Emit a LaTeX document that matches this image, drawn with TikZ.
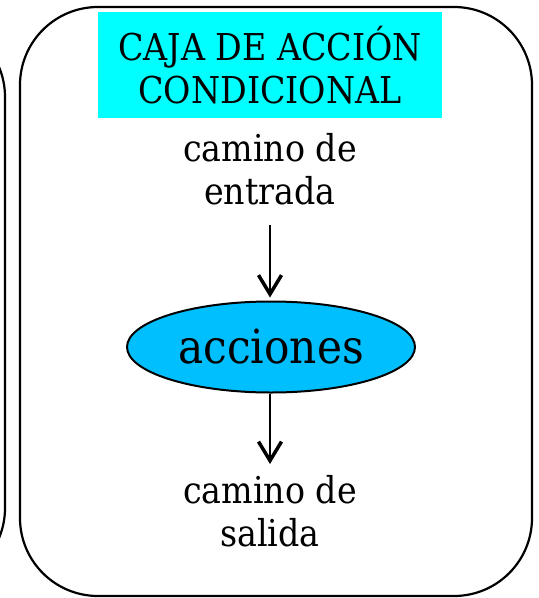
\documentclass[tikz,border=0pt]{standalone}
\usepackage{fontspec}
\setmainfont{DejaVu Serif}[FakeStretch=0.9]
\usetikzlibrary{arrows.meta,shapes.geometric}
\definecolor{titlecyan}{HTML}{00FFFF}
\definecolor{actblue}{HTML}{00BFFF}
\begin{document}
\begin{tikzpicture}[x=1pt,y=-1pt,
  frame/.style={draw=black,line width=2.2pt,rounded corners=78pt},
  titlebox/.style={fill=titlecyan,minimum width=344pt,minimum height=106pt,inner sep=0pt,align=center,font=\fontsize{37}{43.4}\selectfont},
  pathtext/.style={align=center,inner sep=0pt,font=\fontsize{37}{43}\selectfont},
  actnode/.style={ellipse,draw=black,line width=2pt,fill=actblue,minimum width=288pt,minimum height=91pt,inner sep=0pt,font=\fontsize{47}{56}\selectfont},
  flow/.style={line width=1.5pt,-{Straight Barb[length=19pt,width=23pt,line width=3.5pt 0 1,sharp]}}
]
\useasboundingbox (0,0) rectangle (539,598);
\begin{scope}
  \clip (0,0) rectangle (539,598);
  \draw[frame] (-500,19) rectangle (5,586);
\end{scope}
\draw[frame] (20,7) rectangle (532,596);
\node[titlebox] (title) at (270,65) {CAJA DE ACCIÓN\\CONDICIONAL};
\node[pathtext,anchor=north] (entrada) at (270,133.6) {camino de\\entrada};
\node[actnode] (acciones) at (271,347) {acciones};
\node[pathtext,anchor=north] (salida) at (270,475) {camino de\\salida};
\draw[flow,shorten <=19pt,shorten >=3pt] (entrada.south) -- (entrada.south |- acciones.north);
\draw[flow,shorten >=11pt] (acciones.south -| salida.north) -- (salida.north);
\end{tikzpicture}
\end{document}
